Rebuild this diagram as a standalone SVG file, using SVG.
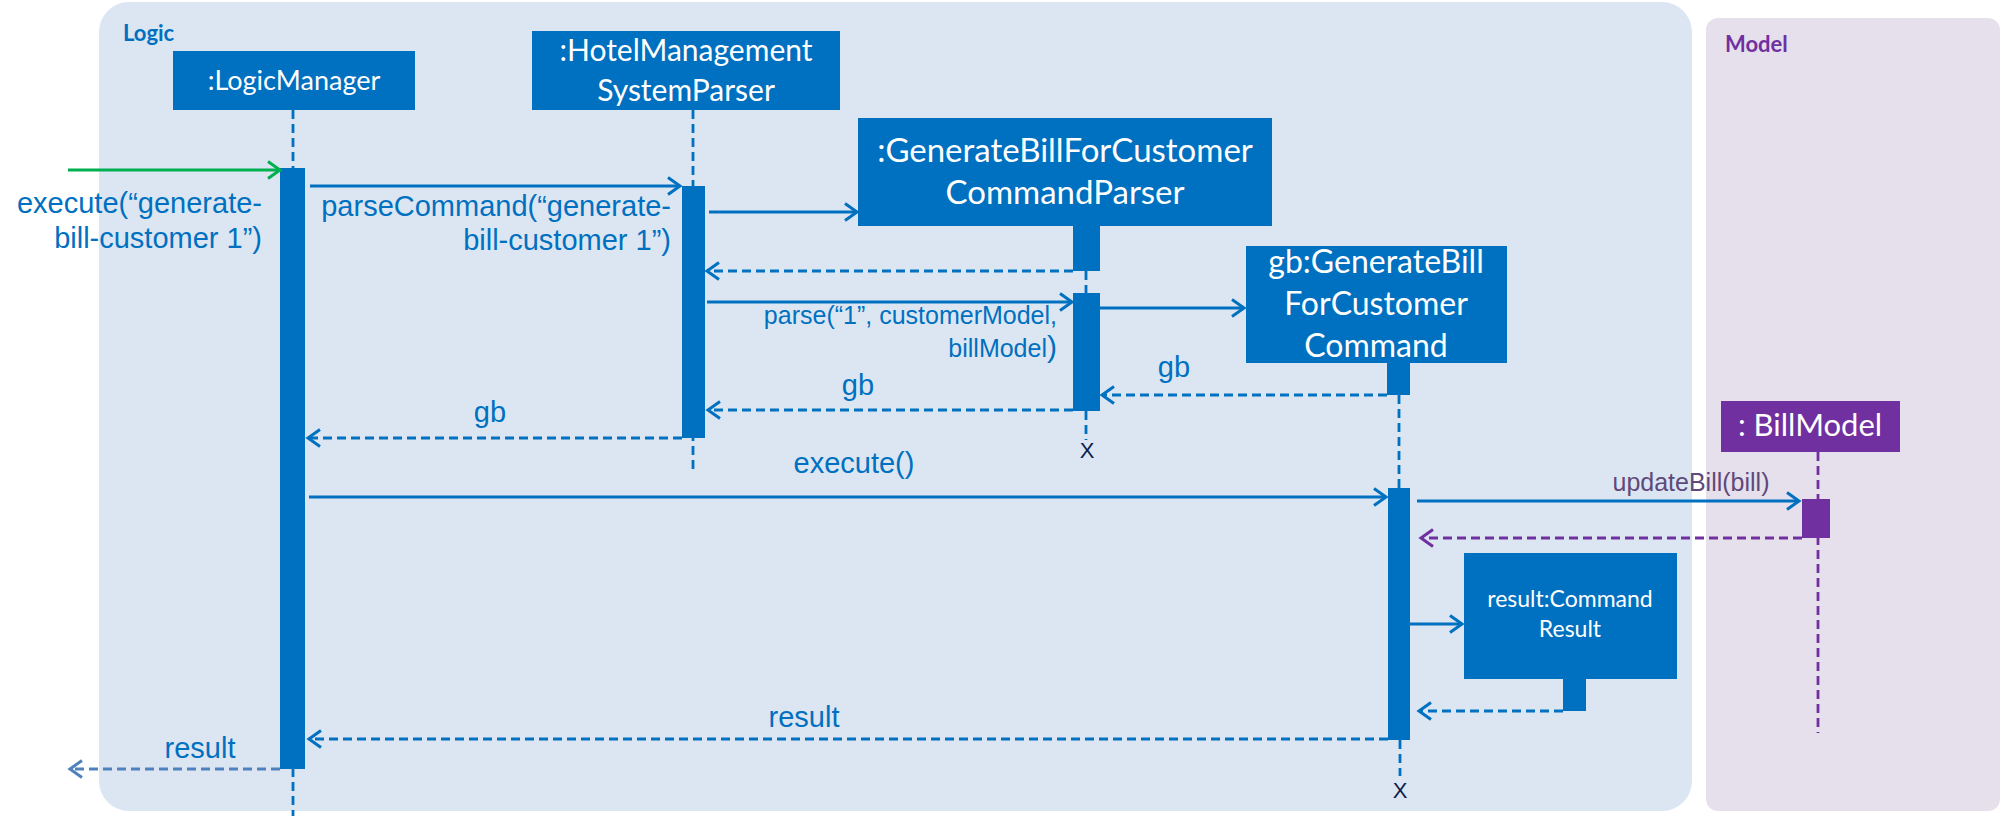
<svg xmlns="http://www.w3.org/2000/svg" width="2002" height="816" viewBox="0 0 2002 816">
<style>
.box{fill:#0070c0}
.pbox{fill:#7030a0}
.bt{font-family:Lato,"Open Sans",sans-serif;fill:#ffffff;text-anchor:middle}
.lbl{font-family:"Liberation Sans",Arial,sans-serif;fill:#0070c0;font-size:29px}
.sm{font-size:25px}
.r{text-anchor:end}
.m{text-anchor:middle}
.life{stroke:#0070c0;stroke-width:2.8;stroke-dasharray:9 5;fill:none}
.plife{stroke:#7030a0;stroke-width:2.8;stroke-dasharray:9 5;fill:none}
.msg{stroke:#0070c0;stroke-width:2.8;fill:none;marker-end:url(#ab)}
.ret{stroke:#0070c0;stroke-width:2.8;stroke-dasharray:9 5;fill:none;marker-end:url(#ab)}
.x{font-family:"Liberation Sans",Arial,sans-serif;font-size:22px;fill:#0d1d4f;text-anchor:middle}
</style>
<defs>
<marker id="ab" markerUnits="userSpaceOnUse" markerWidth="18" markerHeight="22" refX="14" refY="10" orient="auto"><path d="M2,1.5 L14,10 L2,18.5" fill="none" stroke="#0070c0" stroke-width="3"/></marker>
<marker id="ag" markerUnits="userSpaceOnUse" markerWidth="18" markerHeight="22" refX="14" refY="10" orient="auto"><path d="M2,1.5 L14,10 L2,18.5" fill="none" stroke="#00b050" stroke-width="3"/></marker>
<marker id="ap" markerUnits="userSpaceOnUse" markerWidth="18" markerHeight="22" refX="14" refY="10" orient="auto"><path d="M2,1.5 L14,10 L2,18.5" fill="none" stroke="#7030a0" stroke-width="3"/></marker>
<marker id="as" markerUnits="userSpaceOnUse" markerWidth="18" markerHeight="22" refX="14" refY="10" orient="auto"><path d="M2,1.5 L14,10 L2,18.5" fill="none" stroke="#4f81bd" stroke-width="3"/></marker>
</defs>
<rect width="2002" height="816" fill="#ffffff"/>
<g id="frame-logic">
<rect x="99" y="2" width="1593" height="809" rx="30" fill="#dce6f2"/>
<text x="123" y="41" font-family="Lato,'Open Sans',sans-serif" font-weight="bold" font-size="22" fill="#0070c0">Logic</text>
</g>
<g id="frame-model">
<rect x="1706" y="18" width="294" height="793" rx="12" fill="#e6e0ec"/>
<text x="1725" y="52" font-family="Lato,'Open Sans',sans-serif" font-weight="bold" font-size="22" fill="#7030a0">Model</text>
</g>
<g id="lifelines">
<line class="life" x1="293" y1="110" x2="293" y2="816"/>
<line class="life" x1="693" y1="110" x2="693" y2="472"/>
<line class="life" x1="1086" y1="271" x2="1086" y2="293"/>
<line class="life" x1="1086" y1="411" x2="1086" y2="440"/>
<line class="life" x1="1399" y1="395" x2="1399" y2="488"/>
<line class="life" x1="1400" y1="740" x2="1400" y2="776"/>
<line class="plife" x1="1818" y1="452" x2="1818" y2="733"/>
</g>
<g id="logicmanager">
<rect class="box" x="173" y="51" width="242" height="59"/>
<text class="bt" x="294" y="90" font-size="27">:LogicManager</text>
<rect class="box" x="280" y="168" width="25" height="601"/>
</g>
<g id="parser">
<rect class="box" x="532" y="31" width="308" height="79"/>
<text class="bt" x="686" y="61" font-size="30">:HotelManagement</text>
<text class="bt" x="686" y="101" font-size="30">SystemParser</text>
<rect class="box" x="682" y="186" width="23" height="252"/>
</g>
<g id="commandparser">
<rect class="box" x="858" y="118" width="414" height="108"/>
<text class="bt" x="1065" y="162" font-size="33">:GenerateBillForCustomer</text>
<text class="bt" x="1065" y="204" font-size="33">CommandParser</text>
<rect class="box" x="1073" y="226" width="27" height="45"/>
<rect class="box" x="1073" y="293" width="27" height="118"/>
<text class="x" x="1087" y="458">X</text>
</g>
<g id="command">
<rect class="box" x="1246" y="246" width="261" height="117"/>
<text class="bt" x="1376" y="273" font-size="32">gb:GenerateBill</text>
<text class="bt" x="1376" y="315" font-size="32">ForCustomer</text>
<text class="bt" x="1376" y="357" font-size="32">Command</text>
<rect class="box" x="1387" y="363" width="23" height="32"/>
<rect class="box" x="1388" y="488" width="22" height="252"/>
<text class="x" x="1400" y="798">X</text>
</g>
<g id="billmodel">
<rect class="pbox" x="1721" y="401" width="179" height="51"/>
<text class="bt" x="1810" y="436" font-size="31">: BillModel</text>
<rect class="pbox" x="1802" y="499" width="28" height="39"/>
</g>
<g id="commandresult">
<rect class="box" x="1464" y="553" width="213" height="126"/>
<text class="bt" x="1570" y="607" font-size="23">result:Command</text>
<text class="bt" x="1570" y="637" font-size="23">Result</text>
<rect class="box" x="1563" y="679" width="23" height="32"/>
</g>
<g id="connectors">
<line x1="68" y1="170" x2="280" y2="170" stroke="#00b050" stroke-width="2.8" marker-end="url(#ag)"/>
<line class="msg" x1="310" y1="186" x2="680" y2="186"/>
<line class="msg" x1="709" y1="212" x2="857" y2="212"/>
<line class="ret" x1="1073" y1="271" x2="707" y2="271"/>
<line class="msg" x1="707" y1="302" x2="1072" y2="302"/>
<line class="msg" x1="1100" y1="308" x2="1244" y2="308"/>
<line class="ret" x1="1387" y1="395" x2="1102" y2="395"/>
<line class="ret" x1="1073" y1="410" x2="708" y2="410"/>
<line class="ret" x1="682" y1="438" x2="308" y2="438"/>
<line class="msg" x1="309" y1="497" x2="1386" y2="497"/>
<line class="msg" x1="1417" y1="501" x2="1799" y2="501"/>
<line x1="1802" y1="538" x2="1421" y2="538" stroke="#7030a0" stroke-width="2.8" stroke-dasharray="9 5" marker-end="url(#ap)"/>
<line class="msg" x1="1410" y1="624" x2="1462" y2="624"/>
<line class="ret" x1="1563" y1="711" x2="1419" y2="711"/>
<line class="ret" x1="1388" y1="739" x2="309" y2="739"/>
<line x1="280" y1="769" x2="70" y2="769" stroke="#4f81bd" stroke-width="2.8" stroke-dasharray="9 5" marker-end="url(#as)"/>
</g>
<g id="labels">
<text class="lbl r" x="262" y="213">execute(“generate-</text>
<text class="lbl r" x="262" y="248">bill-customer 1”)</text>
<text class="lbl r" x="671" y="216">parseCommand(“generate-</text>
<text class="lbl r" x="671" y="250">bill-customer 1”)</text>
<text class="lbl sm r" x="1057" y="324">parse(“1”, customerModel,</text>
<text class="lbl sm r" x="1057" y="357">billModel<tspan font-size="30">)</tspan></text>
<text class="lbl m" x="1174" y="377">gb</text>
<text class="lbl m" x="858" y="395">gb</text>
<text class="lbl m" x="490" y="422">gb</text>
<text class="lbl m" x="854" y="473">execute()</text>
<text class="lbl sm m" x="1691" y="491" style="fill:#5f497a">updateBill(bill)</text>
<text class="lbl m" x="804" y="727">result</text>
<text class="lbl m" x="200" y="758">result</text>
</g>
</svg>
